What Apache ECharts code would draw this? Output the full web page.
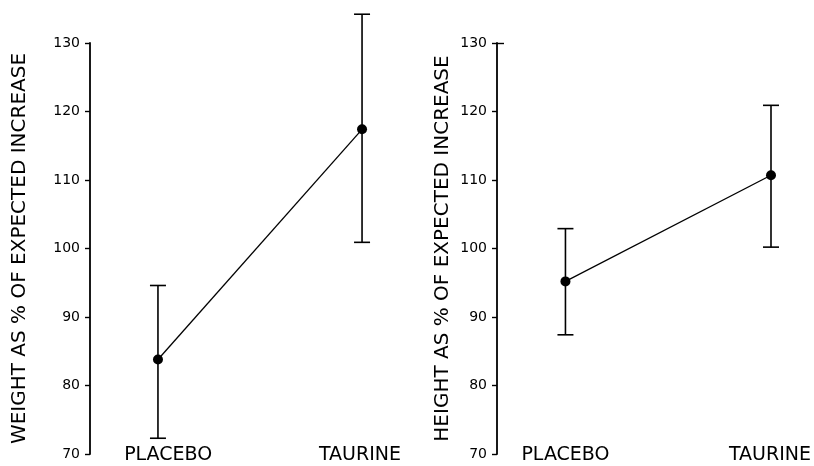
<!DOCTYPE html>
<html>
<head>
<meta charset="utf-8">
<script src="https://cdn.jsdelivr.net/npm/echarts@6/dist/echarts.min.js"></script>
<style>
html,body{margin:0;padding:0;background:#fff;}
#c{width:814px;height:466px;}
</style>
</head>
<body>
<div id="c"></div>
<script>
// ---- data ----
var categories = ['PLACEBO', 'TAURINE'];
var groupX = [1, 2];
var weightMean = [83.8, 117.4];
var weightLow = [72.3, 100.9];
var weightHigh = [94.6, 134.2];
var heightMean = [95.2, 110.7];
var heightLow = [87.4, 100.2];
var heightHigh = [102.9, 120.9];
var yTicks = [70, 80, 90, 100, 110, 120, 130];
var yTitles = ['WEIGHT AS % OF EXPECTED INCREASE', 'HEIGHT AS % OF EXPECTED INCREASE'];

// ---- build ----
var FONT = 'DejaVu Sans';
function pts(xs, ys) { return xs.map(function (x, i) { return [x, ys[i]]; }); }
function bars(xs, lo, hi) { return xs.map(function (x, i) { return [x, lo[i], hi[i]]; }); }

function errRender(params, api) {
  var x = api.value(0);
  var a = api.coord([x, api.value(1)]);
  var b = api.coord([x, api.value(2)]);
  var hw = 8;
  var st = { stroke: '#000', lineWidth: 1.6 };
  return {
    type: 'group',
    children: [
      { type: 'line', shape: { x1: a[0], y1: a[1], x2: b[0], y2: b[1] }, style: st },
      { type: 'line', shape: { x1: a[0] - hw, y1: a[1], x2: a[0] + hw, y2: a[1] }, style: st },
      { type: 'line', shape: { x1: b[0] - hw, y1: b[1], x2: b[0] + hw, y2: b[1] }, style: st }
    ]
  };
}

function xAxisFor(idx, labelPos) {
  return {
    type: 'value', gridIndex: idx, min: 0.667, max: 2.137,
    axisLine: { show: false }, axisTick: { show: false }, splitLine: { show: false },
    axisLabel: {
      customValues: labelPos, margin: 1, verticalAlign: 'middle',
      color: '#000', fontFamily: FONT, fontSize: 19,
      formatter: function (v) { return v < 1.5 ? categories[0] : categories[1]; }
    }
  };
}
function yAxisFor(idx, gap, rightTick) {
  return {
    type: 'value', gridIndex: idx, min: yTicks[0], max: yTicks[yTicks.length - 1], interval: 10,
    axisLine: { show: true, lineStyle: { color: '#000', width: 1.8 } },
    axisTick: { show: true, inside: false, length: 5, lineStyle: { color: '#000', width: 1.4 } },
    splitLine: { show: false },
    axisLabel: { color: '#000', fontFamily: FONT, fontSize: 14, margin: 10 },
    name: yTitles[idx], nameLocation: 'middle', nameRotate: 90, nameGap: gap,
    nameTextStyle: { color: '#000', fontFamily: FONT, fontSize: 20 }
  };
}

var chart = echarts.init(document.getElementById('c'));
chart.setOption({
  backgroundColor: '#fff',
  animation: false,
  grid: [
    { left: 90, top: 43, width: 300, height: 411 },
    { left: 497, top: 43, width: 303.6, height: 411 }
  ],
  xAxis: [xAxisFor(0, [1.05, 1.99]), xAxisFor(1, [1, 1.995])],
  yAxis: [
    yAxisFor(0, 60),
    yAxisFor(1, 44),
    // short inward tick at the top of the right panel's axis
    { type: 'value', gridIndex: 1, min: yTicks[0], max: yTicks[yTicks.length - 1],
      position: 'left', axisLine: { show: false }, splitLine: { show: false },
      axisLabel: { show: false },
      axisTick: { show: true, inside: true, length: 7, customValues: [yTicks[yTicks.length - 1]],
        lineStyle: { color: '#000', width: 1.4 } } }
  ],
  series: [
    { type: 'custom', xAxisIndex: 0, yAxisIndex: 0, clip: false, renderItem: errRender,
      data: bars(groupX, weightLow, weightHigh), z: 2 },
    { type: 'line', xAxisIndex: 0, yAxisIndex: 0, data: pts(groupX, weightMean),
      symbol: 'circle', symbolSize: 10, itemStyle: { color: '#000' },
      lineStyle: { color: '#000', width: 1.3 }, z: 3 },
    { type: 'custom', xAxisIndex: 1, yAxisIndex: 1, clip: false, renderItem: errRender,
      data: bars(groupX, heightLow, heightHigh), z: 2 },
    { type: 'line', xAxisIndex: 1, yAxisIndex: 1, data: pts(groupX, heightMean),
      symbol: 'circle', symbolSize: 10, itemStyle: { color: '#000' },
      lineStyle: { color: '#000', width: 1.3 }, z: 3 }
  ]
});
</script>
</body>
</html>
